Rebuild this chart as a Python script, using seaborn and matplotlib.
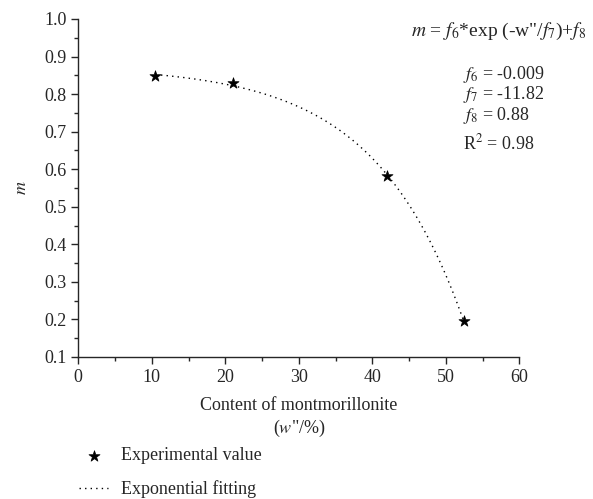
import numpy as np
import matplotlib
matplotlib.use("Agg")
import matplotlib.pyplot as plt
import seaborn as sns
from matplotlib.ticker import MultipleLocator

# measured points
content = [10.5, 21.0, 42.0, 52.4]
m_values = [0.847, 0.829, 0.583, 0.197]

sns.set_style("ticks")
plt.rcParams["font.family"] = ["Liberation Serif", "DejaVu Serif"]
plt.rcParams["mathtext.fontset"] = "stix"
plt.rcParams["font.size"] = 13

# fit m = f6*exp(-w/f7)+f8 to the points (grid over f7, linear lsq for f6, f8)
w = np.array(content)
y = np.array(m_values)
best = None
for f7 in np.linspace(-40, -3, 2000):
    A = np.column_stack([np.exp(-w / f7), np.ones_like(w)])
    coef, res, *_ = np.linalg.lstsq(A, y, rcond=None)
    err = np.sum((A @ coef - y) ** 2)
    if best is None or err < best[0]:
        best = (err, coef[0], f7, coef[1])
_, f6, f7, f8 = best
w_fit = np.linspace(min(content), max(content), 200)
m_fit = f6 * np.exp(-w_fit / f7) + f8

fig = plt.figure(figsize=(5.93, 4.99), dpi=100)
ax = fig.add_axes([0.132, 0.2846, 0.744, 0.6774])

sns.lineplot(x=w_fit, y=m_fit, ax=ax, color="black", linestyle=(0, (1, 3)),
             linewidth=1.0, label="Exponential fitting", legend=False)
sns.scatterplot(x=content, y=m_values, ax=ax, marker="*", s=70, color="black",
                edgecolor="black", linewidth=0.5, zorder=3, label="Experimental value",
                legend=False)

ax.set_xlim(0, 60)
ax.set_ylim(0.1, 1.0)
ax.xaxis.set_major_locator(MultipleLocator(10))
ax.xaxis.set_minor_locator(MultipleLocator(5))
ax.yaxis.set_major_locator(MultipleLocator(0.1))
ax.yaxis.set_minor_locator(MultipleLocator(0.05))
ax.tick_params(which="major", direction="out", length=5, width=1, labelsize=13)
ax.tick_params(which="minor", direction="out", length=3, width=1)
for s in ["left", "bottom"]:
    ax.spines[s].set_linewidth(1)
sns.despine(ax=ax)

ax.set_xlabel("Content of montmorillonite\n($w$\"/%)", labelpad=8, linespacing=1.25)
ax.set_ylabel("$m$", labelpad=10)

fig.text(0.988, 0.938, "$m$ = $f_6$*exp (-w\"/$f_7$)+$f_8$", ha="right", va="center",
         fontsize=14)
fig.text(0.78, 0.851, "$f_6$ = -0.009", ha="left", va="center")
fig.text(0.78, 0.810, "$f_7$ = -11.82", ha="left", va="center")
fig.text(0.78, 0.768, "$f_8$ = 0.88", ha="left", va="center")
fig.text(0.78, 0.712, "R$^2$ = 0.98", ha="left", va="center")

h, l = ax.get_legend_handles_labels()
order = [1, 0]
fig.legend([h[i] for i in order], [l[i] for i in order], loc="upper left",
           bbox_to_anchor=(0.106, 0.136), frameon=False, labelspacing=0.88,
           handlelength=1.6, handletextpad=0.7, fontsize=13)

fig.savefig("out.png", dpi=100)
